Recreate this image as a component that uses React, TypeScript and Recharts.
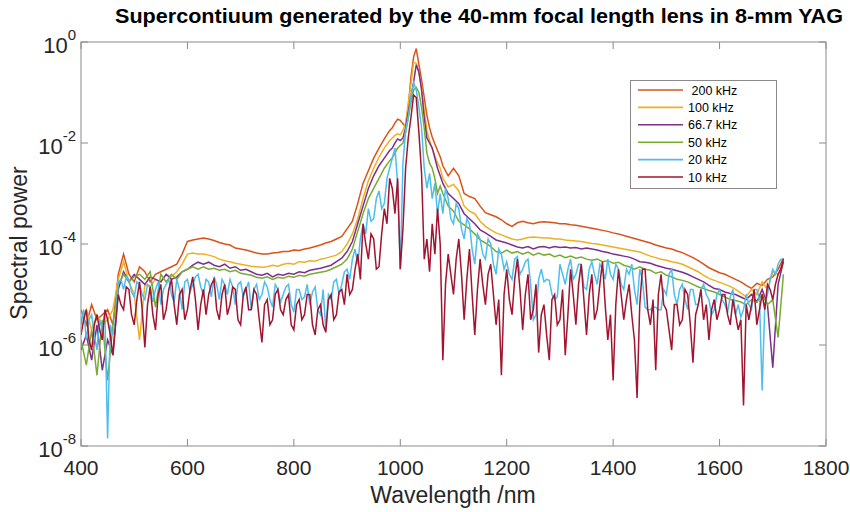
import React from 'react';
import { LineChart, Line, XAxis, YAxis, Legend } from 'recharts';

// Wavelength grid (nm) for the smoother, high-repetition-rate spectra
const WAVELENGTH = [
  400, 410, 420, 430, 440, 450, 460, 470, 480, 490,
  500, 510, 520, 530, 540, 550, 560, 570, 580, 590,
  600, 610, 620, 630, 640, 650, 660, 670, 680, 690,
  700, 710, 720, 730, 740, 750, 760, 770, 780, 790,
  800, 810, 820, 830, 840, 850, 860, 870, 880, 890,
  900, 910, 920, 930, 940, 950, 960, 970, 980,
  985, 990, 995, 1000, 1005, 1010, 1015, 1020, 1025, 1030,
  1035, 1040, 1045, 1050, 1055, 1060, 1065, 1070, 1075,
  1080, 1090, 1100, 1110, 1120, 1130, 1140, 1150, 1160, 1170,
  1180, 1190, 1200, 1210, 1220, 1230, 1240, 1250, 1260, 1270,
  1280, 1290, 1300, 1310, 1320, 1330, 1340, 1350, 1360, 1370,
  1380, 1390, 1400, 1410, 1420, 1430, 1440, 1450, 1460, 1470,
  1480, 1490, 1500, 1510, 1520, 1530, 1540, 1550, 1560, 1570,
  1580, 1590, 1600, 1610, 1620, 1630, 1640, 1650, 1660, 1670,
  1680, 1690, 1700, 1710, 1720,
];

// Finer wavelength grid (nm) for the noisy low-repetition-rate spectra
const WAVELENGTH_FINE = [
  400, 405, 410, 415, 420, 425, 430, 435, 440, 445,
  450, 455, 460, 465, 470, 475, 480, 485, 490, 495,
  500, 505, 510, 515, 520, 525, 530, 535, 540, 545,
  550, 555, 560, 565, 570, 575, 580, 585, 590, 595,
  600, 605, 610, 615, 620, 625, 630, 635, 640, 645,
  650, 655, 660, 665, 670, 675, 680, 685, 690, 695,
  700, 705, 710, 715, 720, 725, 730, 735, 740, 745,
  750, 755, 760, 765, 770, 775, 780, 785, 790, 795,
  800, 805, 810, 815, 820, 825, 830, 835, 840, 845,
  850, 855, 860, 865, 870, 875, 880, 885, 890, 895,
  900, 905, 910, 915, 920, 925, 930, 935, 940, 945,
  950, 955, 960, 965, 970, 975, 980, 985, 990, 995,
  1000, 1005, 1010, 1015, 1020, 1025, 1030, 1035, 1040, 1045,
  1050, 1055, 1060, 1065, 1070, 1075, 1080, 1085, 1090, 1095,
  1100, 1105, 1110, 1115, 1120, 1125, 1130, 1135, 1140, 1145,
  1150, 1155, 1160, 1165, 1170, 1175, 1180, 1185, 1190, 1195,
  1200, 1205, 1210, 1215, 1220, 1225, 1230, 1235, 1240, 1245,
  1250, 1255, 1260, 1265, 1270, 1275, 1280, 1285, 1290, 1295,
  1300, 1305, 1310, 1315, 1320, 1325, 1330, 1335, 1340, 1345,
  1350, 1355, 1360, 1365, 1370, 1375, 1380, 1385, 1390, 1395,
  1400, 1405, 1410, 1415, 1420, 1425, 1430, 1435, 1440, 1445,
  1450, 1455, 1460, 1465, 1470, 1475, 1480, 1485, 1490, 1495,
  1500, 1505, 1510, 1515, 1520, 1525, 1530, 1535, 1540, 1545,
  1550, 1555, 1560, 1565, 1570, 1575, 1580, 1585, 1590, 1595,
  1600, 1605, 1610, 1615, 1620, 1625, 1630, 1635, 1640, 1645,
  1650, 1655, 1660, 1665, 1670, 1675, 1680, 1685, 1690, 1695,
  1700, 1705, 1710, 1715, 1720,
];

// Spectral power, stored as log10 values
const LOG_200KHZ = [
  -5.3, -5.6, -5.2, -5.5, -5.4, -5.3, -5.6, -4.6, -4.2, -4.6,
  -4.75, -4.45, -4.55, -4.75, -4.6, -4.55, -4.5, -4.45, -4.4, -4.2,
  -3.95, -3.92, -3.9, -3.88, -3.9, -3.93, -3.97, -4.0, -4.02, -4.08,
  -4.1, -4.12, -4.15, -4.18, -4.2, -4.2, -4.18, -4.17, -4.15, -4.15,
  -4.12, -4.13, -4.1, -4.08, -4.05, -4.02, -3.98, -3.95, -3.9, -3.85,
  -3.7, -3.55, -3.2, -2.8, -2.55, -2.3, -2.1, -1.92, -1.75,
  -1.7, -1.6, -1.53, -1.55, -1.62, -1.68, -1.3, -0.7, -0.3, -0.13,
  -0.45, -0.75, -1.1, -1.45, -1.7, -1.88, -2.02, -2.15, -2.27,
  -2.45, -2.65, -2.5, -2.65, -3.0, -3.06, -3.1, -3.25, -3.38, -3.42,
  -3.46, -3.52, -3.6, -3.65, -3.58, -3.55, -3.58, -3.6, -3.57, -3.56,
  -3.57, -3.58, -3.6, -3.6, -3.62, -3.63, -3.65, -3.67, -3.69, -3.71,
  -3.73, -3.75, -3.78, -3.8, -3.83, -3.86, -3.89, -3.92, -3.95, -3.98,
  -4.02, -4.05, -4.08, -4.1, -4.14, -4.17, -4.22, -4.27, -4.33, -4.4,
  -4.47, -4.52, -4.57, -4.6, -4.65, -4.7, -4.75, -4.82, -4.88, -4.78,
  -4.82, -4.7, -4.65, -4.5, -4.28,
];

const LOG_100KHZ = [
  -5.5, -5.3, -5.7, -5.4, -5.6, -5.5, -5.3, -4.7, -4.35, -4.75,
  -5.0, -5.9, -4.8, -4.85, -4.7, -4.75, -4.6, -4.65, -4.55, -4.4,
  -4.2, -4.18, -4.2, -4.2, -4.22, -4.25, -4.3, -4.33, -4.35, -4.38,
  -4.4, -4.42, -4.44, -4.45, -4.46, -4.45, -4.42, -4.44, -4.4, -4.38,
  -4.4, -4.35, -4.36, -4.33, -4.34, -4.3, -4.28, -4.25, -4.22, -4.15,
  -4.0, -3.8, -3.5, -3.1, -2.75, -2.5, -2.28, -2.1, -1.95,
  -1.9, -1.85, -1.82, -1.84, -1.75, -1.6, -1.2, -0.85, -0.4, -0.42,
  -0.6, -0.9, -1.35, -1.75, -1.95, -2.1, -2.25, -2.4, -2.5,
  -2.7, -2.87, -2.82, -2.95, -3.25, -3.35, -3.4, -3.55, -3.65, -3.72,
  -3.78, -3.82, -3.86, -3.9, -3.92, -3.9, -3.87, -3.86, -3.87, -3.88,
  -3.88, -3.9, -3.9, -3.92, -3.93, -3.94, -3.95, -3.97, -3.99, -4.0,
  -4.02, -4.04, -4.06, -4.08, -4.1, -4.12, -4.14, -4.16, -4.2, -4.24,
  -4.27, -4.3, -4.32, -4.35, -4.37, -4.4, -4.45, -4.5, -4.55, -4.62,
  -4.68, -4.72, -4.76, -4.8, -4.84, -4.9, -4.97, -5.05, -4.9, -5.0,
  -4.75, -4.9, -4.55, -4.6, -4.35,
];

const LOG_66KHZ = [
  -6.1, -5.8, -6.3, -5.6, -6.5, -5.9, -6.2, -4.9, -4.55, -4.75,
  -4.6, -4.7, -4.8, -4.65, -4.7, -4.75, -4.6, -4.7, -4.65, -4.55,
  -4.5, -4.42, -4.36, -4.4, -4.36, -4.42, -4.45, -4.4, -4.48, -4.45,
  -4.52, -4.5, -4.55, -4.6, -4.62, -4.58, -4.65, -4.6, -4.62, -4.58,
  -4.6, -4.55, -4.57, -4.52, -4.5, -4.48, -4.45, -4.42, -4.35, -4.28,
  -4.15, -3.95, -3.6, -3.25, -2.9, -2.65, -2.45, -2.3, -2.15,
  -2.1, -2.0, -1.92, -1.95, -1.9, -1.7, -1.4, -1.1, -0.8, -0.45,
  -0.6, -0.95, -1.5, -1.9, -2.0, -2.1, -2.3, -2.5, -2.65,
  -2.8, -3.0, -3.1, -3.2, -3.4, -3.5, -3.6, -3.72, -3.78, -3.85,
  -3.92, -3.95, -3.98, -4.02, -4.06, -4.08, -4.05, -4.1, -4.06, -4.05,
  -4.08, -4.05, -4.07, -4.06, -4.08, -4.07, -4.1, -4.08, -4.1, -4.12,
  -4.15, -4.17, -4.2, -4.22, -4.24, -4.26, -4.3, -4.35, -4.36, -4.38,
  -4.42, -4.45, -4.48, -4.5, -4.53, -4.56, -4.6, -4.65, -4.7, -4.75,
  -4.82, -4.88, -4.9, -4.95, -4.98, -5.0, -5.05, -5.1, -5.0, -5.15,
  -4.9, -5.2, -6.45, -4.8, -4.35,
];

const LOG_50KHZ = [
  -5.9, -6.4, -5.7, -6.6, -5.5, -6.7, -5.6, -4.8, -4.6, -4.75,
  -4.65, -4.6, -4.7, -4.55, -5.25, -4.6, -4.75, -4.6, -4.7, -4.55,
  -4.5, -4.45, -4.5, -4.45, -4.5, -4.48, -4.52, -4.5, -4.55, -4.52,
  -4.58, -4.6, -4.62, -4.66, -4.68, -4.65, -4.7, -4.66, -4.68, -4.64,
  -4.66, -4.62, -4.64, -4.6, -4.58, -4.56, -4.54, -4.5, -4.45, -4.4,
  -4.3, -4.1, -3.75, -3.4, -3.1, -2.9, -2.7, -2.5, -2.35,
  -2.3, -2.2, -2.1, -2.05, -2.0, -1.8, -1.5, -1.2, -0.95, -0.9,
  -1.0, -1.3, -1.7, -2.2, -2.4, -2.5, -2.7, -3.0, -2.85,
  -3.0, -3.25, -3.35, -3.55, -3.62, -3.7, -3.8, -3.92, -3.98, -4.05,
  -4.15, -4.18, -4.12, -4.18, -4.15, -4.2, -4.16, -4.22, -4.18, -4.22,
  -4.2, -4.25, -4.22, -4.27, -4.24, -4.28, -4.26, -4.3, -4.32, -4.3,
  -4.35, -4.33, -4.38, -4.36, -4.42, -4.45, -4.5, -4.45, -4.5, -4.52,
  -4.58, -4.55, -4.62, -4.65, -4.7, -4.72, -4.75, -4.8, -4.85, -4.88,
  -4.92, -4.95, -5.0, -5.05, -5.1, -5.12, -5.15, -5.2, -5.1, -5.15,
  -5.0, -5.2, -5.1, -5.85, -4.6,
];

// 20 kHz on the fine grid
const LOG_20KHZ = [
  -5.6, -5.3, -5.9, -5.5, -5.4, -5.8, -6.1, -5.5, -5.7, -5.4,
  -7.85, -5.6, -5.8, -5.5, -4.75, -4.7, -4.9, -4.65, -4.7, -4.95,
  -5.05, -4.75, -4.8, -5.0, -5.1, -4.8, -4.85, -5.15, -4.9, -4.75,
  -5.2, -4.9, -4.8, -4.7, -5.0, -5.15, -4.7, -4.9, -5.3, -4.75,
  -4.7, -4.95, -4.8, -4.65, -4.6, -4.85, -5.0, -4.7, -4.75, -5.05,
  -4.65, -4.8, -5.1, -4.7, -4.8, -5.0, -4.7, -4.85, -5.2, -4.8,
  -4.75, -5.05, -4.9, -4.75, -5.3, -4.9, -4.8, -5.1, -5.0, -4.75,
  -4.85, -5.1, -5.25, -4.8, -4.9, -5.15, -5.0, -4.85, -4.8, -5.2,
  -5.35, -4.9, -4.9, -5.1, -5.05, -4.8, -5.2, -4.95, -4.85, -5.3,
  -5.4, -4.9, -5.7, -5.0, -5.1, -4.75, -4.7, -5.0, -4.8, -4.55,
  -4.5, -4.7, -4.3, -4.1, -4.4, -3.9, -3.6, -3.8, -3.3, -3.55,
  -3.5, -3.1, -2.95, -3.3, -3.2, -2.7, -2.5, -2.3, -2.1, -2.8,
  -4.5, -2.4, -1.75, -1.5, -1.1, -0.8, -0.95, -1.3, -1.7, -2.5,
  -2.9, -2.6, -3.1, -2.8, -3.4, -3.0, -3.4, -2.9, -3.1, -3.5,
  -3.6, -3.2, -3.3, -3.7, -3.9, -3.5, -3.6, -4.1, -4.4, -3.8,
  -3.9, -4.2, -4.3, -3.9, -4.0, -4.4, -4.6, -4.1, -4.2, -4.5,
  -4.35, -4.6, -4.7, -4.3, -4.25, -4.6, -4.5, -4.35, -4.3, -4.8,
  -5.5, -5.4, -4.7, -4.5, -4.75, -4.7, -4.72, -5.0, -5.1, -5.05,
  -4.4, -4.6, -4.8, -4.5, -4.3, -4.7, -4.6, -4.4, -4.4, -4.85,
  -4.9, -4.5, -4.35, -4.6, -4.8, -4.4, -4.5, -4.7, -4.3, -4.6,
  -4.7, -4.4, -4.5, -4.8, -4.9, -4.5, -4.6, -4.4, -4.9, -5.2,
  -4.5, -4.7, -5.25, -5.3, -5.3, -5.25, -5.25, -5.3, -5.3, -4.9,
  -5.0, -4.6, -4.5, -5.0, -5.2, -4.9, -4.8, -5.1, -5.3, -4.9,
  -4.9, -5.2, -5.2, -4.9, -4.8, -5.0, -5.1, -5.4, -5.3, -5.0,
  -4.9, -5.1, -5.2, -5.35, -5.05, -4.9, -5.4, -5.2, -5.45, -5.3,
  -5.0, -5.2, -5.3, -4.9, -4.9, -5.1, -6.9, -5.2, -5.0, -4.7,
  -4.5, -4.6, -4.4, -4.3, -4.3,
];

// 10 kHz on the fine grid
const LOG_10KHZ = [
  -5.8, -5.5, -5.3, -5.9, -6.1, -5.6, -5.4, -5.7, -5.9, -5.3,
  -5.5, -5.8, -6.2, -5.6, -5.0, -5.2, -5.3, -4.85, -4.9, -5.4,
  -5.6, -5.1, -4.75, -5.3, -6.05, -5.2, -4.85, -5.4, -5.7, -5.0,
  -4.8, -5.5, -5.3, -4.9, -4.7, -5.2, -5.6, -5.0, -4.9, -5.5,
  -5.3, -4.9, -4.65, -5.1, -5.7, -5.2, -4.9, -5.4, -5.0, -4.8,
  -4.7, -5.3, -5.5, -5.0, -4.8, -5.4, -5.2, -4.85, -4.9, -5.5,
  -5.6, -5.0, -4.85, -5.3, -5.3, -4.9, -5.0, -5.5, -5.95, -5.2,
  -5.1, -5.6, -5.5, -5.0, -4.9, -5.3, -5.4, -5.1, -5.0, -5.6,
  -5.7, -5.2, -5.1, -5.5, -5.4, -5.0, -5.0, -5.6, -5.8, -5.3,
  -5.2, -5.6, -5.75, -5.1, -5.0, -5.5, -5.4, -4.95, -4.9, -5.2,
  -4.6, -5.0, -4.9, -4.5, -4.2, -4.7, -3.6, -4.0, -4.3, -3.8,
  -3.9, -4.5, -4.45, -3.8, -3.3, -3.6, -2.7, -2.9, -3.4, -2.7,
  -4.5, -3.7, -2.5, -1.9, -1.5, -1.05, -1.1, -1.8, -2.6, -4.3,
  -3.9, -4.55, -3.6, -4.2, -3.3, -4.0, -6.3, -4.8, -4.2, -4.6,
  -5.0, -4.3, -3.9, -4.6, -5.5, -4.7, -4.1, -5.0, -5.8, -4.9,
  -4.3, -4.8, -5.2, -4.6, -4.4, -5.0, -5.6, -5.1, -6.6, -5.0,
  -4.5, -5.1, -5.4, -4.7, -4.3, -4.9, -5.7, -5.0, -4.6, -5.5,
  -5.3, -4.8, -6.15, -5.4, -5.2, -5.8, -6.3, -5.1, -5.0, -5.6,
  -5.5, -4.9, -6.2, -5.4, -4.5, -5.0, -5.6, -4.8, -4.4, -5.1,
  -5.8, -5.0, -4.6, -5.5, -5.3, -4.8, -4.35, -5.2, -5.9, -5.4,
  -6.7, -5.2, -4.5, -5.0, -5.5, -5.1, -4.8, -5.4, -5.9, -7.05,
  -5.2, -4.5, -4.5, -5.3, -5.6, -5.1, -6.5, -5.0, -4.6, -5.2,
  -5.3, -5.7, -6.1, -5.2, -5.2, -5.6, -5.5, -4.9, -5.0, -5.6,
  -6.35, -5.4, -5.2, -4.9, -5.5, -5.2, -5.9, -5.3, -5.1, -5.5,
  -5.3, -5.0, -5.0, -5.4, -5.6, -5.1, -5.4, -5.7, -5.5, -7.2,
  -5.2, -5.5, -5.2, -4.9, -5.6, -5.3, -5.0, -5.3, -4.8, -4.9,
  -5.1, -4.8, -4.6, -4.5, -4.3,
];

const SERIES_NAMES = [' 200 kHz', '100 kHz', '66.7 kHz', '50 kHz', '20 kHz', '10 kHz'];
const SERIES_COLORS = ['#D95319', '#EDB120', '#7E2F8E', '#77AC30', '#4DBEEE', '#A2142F'];

const X_TICKS = [400, 600, 800, 1000, 1200, 1400, 1600, 1800];
const Y_TICKS = [1e-8, 1e-6, 1e-4, 1e-2, 1];

const TITLE = 'Supercontiuum generated by the 40-mm focal length lens in 8-mm YAG';
const X_LABEL = 'Wavelength /nm';
const Y_LABEL = 'Spectral power';

const toRows = (grid: number[], logs: number[]) =>
  grid.map((w, i) => ({ w, p: Math.pow(10, logs[i]) }));

const SERIES_DATA = [
  toRows(WAVELENGTH, LOG_200KHZ),
  toRows(WAVELENGTH, LOG_100KHZ),
  toRows(WAVELENGTH, LOG_66KHZ),
  toRows(WAVELENGTH, LOG_50KHZ),
  toRows(WAVELENGTH_FINE, LOG_20KHZ),
  toRows(WAVELENGTH_FINE, LOG_10KHZ),
];

const W = 850;
const H = 512;
const PLOT_LEFT = 81;
const PLOT_RIGHT = 826;
const PLOT_TOP = 42;
const PLOT_BOTTOM = 446;
const TICK_LEN = 7;
const AXIS_COLOR = '#8a8a8a';
const TEXT_COLOR = '#262626';
const FONT = '"Liberation Sans", Arial, Helvetica, sans-serif';

const XTick = (props: any) => {
  const { x, payload } = props;
  return (
    <g>
      <line x1={x} x2={x} y1={PLOT_BOTTOM} y2={PLOT_BOTTOM - TICK_LEN} stroke={AXIS_COLOR} strokeWidth={1} />
      <line x1={x} x2={x} y1={PLOT_TOP} y2={PLOT_TOP + TICK_LEN} stroke={AXIS_COLOR} strokeWidth={1} />
      <text x={x} y={PLOT_BOTTOM + 29} textAnchor="middle" fontSize={21} fontFamily={FONT} fill={TEXT_COLOR}>
        {payload.value}
      </text>
    </g>
  );
};

const YTick = (props: any) => {
  const { y, payload } = props;
  const exp = Math.round(Math.log10(payload.value));
  return (
    <g>
      <line x1={PLOT_LEFT} x2={PLOT_LEFT + TICK_LEN} y1={y} y2={y} stroke={AXIS_COLOR} strokeWidth={1} />
      <line x1={PLOT_RIGHT - TICK_LEN} x2={PLOT_RIGHT} y1={y} y2={y} stroke={AXIS_COLOR} strokeWidth={1} />
      <text x={76} y={y + 11} textAnchor="end" fontFamily={FONT} fill={TEXT_COLOR} fontSize={22}>
        <tspan>10</tspan>
        <tspan dy={-13} fontSize={15}>{String(exp)}</tspan>
      </text>
    </g>
  );
};

const LegendBox = () => (
  <svg width={148} height={110} style={{ display: 'block' }}>
    <rect x={0.5} y={0.5} width={146} height={108} fill="#fff" stroke={AXIS_COLOR} strokeWidth={1} />
    {SERIES_NAMES.map((name, i) => {
      const cy = 10 + i * 17.4;
      return (
        <g key={name}>
          <line x1={8} x2={53} y1={cy} y2={cy} stroke={SERIES_COLORS[i]} strokeWidth={1.6} />
          <text x={58} y={cy + 4.5} fontSize={12.5} fontFamily={FONT} fill="#000" style={{ whiteSpace: 'pre' }}>
            {name}
          </text>
        </g>
      );
    })}
  </svg>
);

export default function App() {
  return (
    <div style={{ position: 'absolute', left: 0, top: 0, width: W, height: H, background: '#fff' }}>
      <LineChart
        width={W}
        height={H}
        margin={{ top: PLOT_TOP, right: W - PLOT_RIGHT, left: 0, bottom: 0 }}
      >
        <XAxis
          dataKey="w"
          type="number"
          domain={[400, 1800]}
          ticks={X_TICKS}
          tick={<XTick />}
          tickLine={false}
          axisLine={false}
          height={H - PLOT_BOTTOM}
          interval={0}
          allowDataOverflow
        />
        <YAxis
          type="number"
          scale="log"
          domain={[1e-8, 1]}
          ticks={Y_TICKS}
          tick={<YTick />}
          tickLine={false}
          axisLine={false}
          width={PLOT_LEFT}
          interval={0}
          allowDataOverflow
        />
        {SERIES_DATA.map((rows, i) => (
          <Line
            key={SERIES_NAMES[i]}
            data={rows}
            type="linear"
            dataKey="p"
            name={SERIES_NAMES[i]}
            stroke={SERIES_COLORS[i]}
            strokeWidth={1.5}
            dot={false}
            activeDot={false}
            isAnimationActive={false}
          />
        ))}
        <Legend
          layout="horizontal"
          align="center"
          verticalAlign="middle"
          content={() => <LegendBox />}
          wrapperStyle={{ position: 'absolute', left: 630, top: 80, width: 148, height: 110 }}
        />
      </LineChart>
      <svg
        width={W}
        height={H}
        style={{ position: 'absolute', left: 0, top: 0, pointerEvents: 'none' }}
      >
        <rect
          x={PLOT_LEFT}
          y={PLOT_TOP}
          width={PLOT_RIGHT - PLOT_LEFT}
          height={PLOT_BOTTOM - PLOT_TOP}
          fill="none"
          stroke={AXIS_COLOR}
          strokeWidth={1}
        />
        <text
          x={479}
          y={23}
          textAnchor="middle"
          fontSize={21}
          fontWeight="bold"
          fontFamily={FONT}
          fill="#000"
          textLength={728}
          lengthAdjust="spacingAndGlyphs"
        >
          {TITLE}
        </text>
        <text x={453} y={503} textAnchor="middle" fontSize={23} fontFamily={FONT} fill={TEXT_COLOR}>
          {X_LABEL}
        </text>
        <text
          x={0}
          y={0}
          transform={`translate(27, 243) rotate(-90)`}
          textAnchor="middle"
          fontSize={23}
          fontFamily={FONT}
          fill={TEXT_COLOR}
        >
          {Y_LABEL}
        </text>
      </svg>
    </div>
  );
}
